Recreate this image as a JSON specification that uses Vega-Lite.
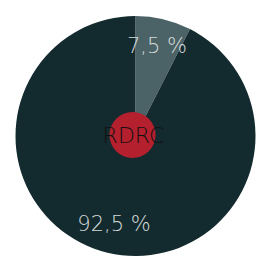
{
  "$schema": "https://vega.github.io/schema/vega-lite/v6.json",
  "width": 271,
  "height": 246,
  "autosize": "none",
  "padding": {"top": 13, "left": 0, "right": 1, "bottom": 0},
  "background": "white",
  "config": {"view": {"stroke": null}},
  "data": {"values": [
    {"category": "A", "value": 7.5, "label": "7,5 %"},
    {"category": "B", "value": 92.5, "label": "92,5 %"}
  ]},
  "layer": [
    {
      "mark": {"type": "arc", "outerRadius": 120},
      "encoding": {
        "theta": {"field": "value", "type": "quantitative", "stack": true},
        "color": {"field": "category", "type": "nominal", "scale": {"domain": ["A", "B"], "range": ["#4b6366", "#132a2e"]}, "legend": null},
        "order": {"field": "category"}
      }
    },
    {
      "mark": {"type": "text", "radius": 92, "fontSize": 21, "font": "DejaVu Sans", "fontWeight": 200, "fill": "#d5dada", "baseline": "middle", "align": "center"},
      "encoding": {
        "theta": {"field": "value", "type": "quantitative", "stack": true},
        "text": {"field": "label"},
        "order": {"field": "category"}
      }
    },
    {
      "data": {"values": [{"name": "RDRC"}]},
      "mark": {"type": "point", "filled": true, "size": 2124, "color": "#b5202e", "opacity": 1, "xOffset": -3, "yOffset": -1},
      "encoding": {}
    },
    {
      "data": {"values": [{"name": "RDRC"}]},
      "mark": {"type": "text", "fontSize": 22, "font": "DejaVu Sans", "fontWeight": 200, "fill": "#111111", "baseline": "middle", "align": "center", "xOffset": -2, "yOffset": 0},
      "encoding": {"text": {"field": "name"}}
    }
  ]
}
